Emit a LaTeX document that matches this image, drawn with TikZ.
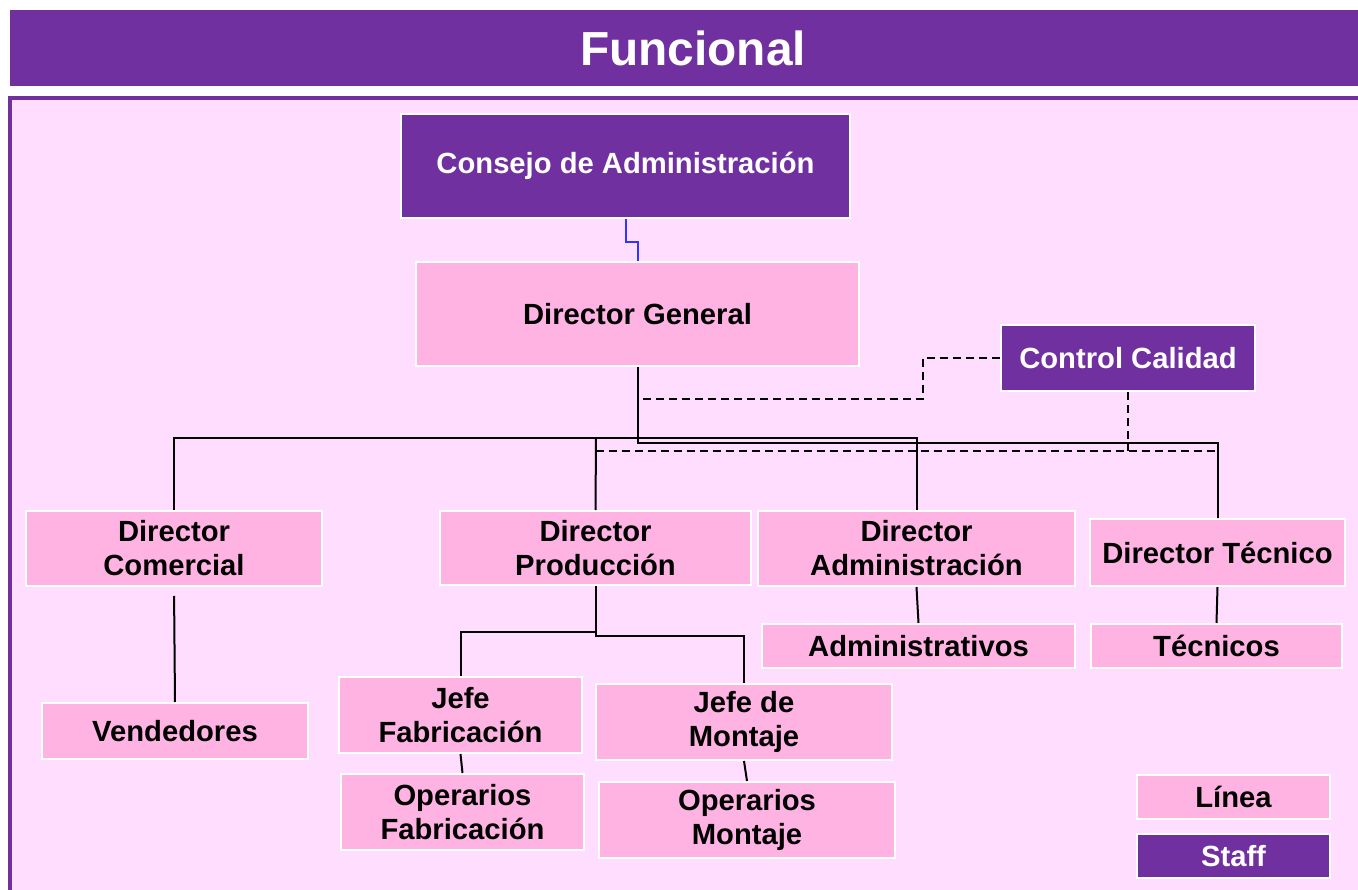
\documentclass[tikz,border=0pt]{standalone}
\usepackage{fontspec}
\setmainfont{Liberation Sans}
\definecolor{staffpurple}{HTML}{7030A0}
\definecolor{panelpink}{HTML}{FFDDFF}
\definecolor{linepink}{HTML}{FFB3E3}
\definecolor{linkblue}{HTML}{3333FF}
\begin{document}
\begin{tikzpicture}[x=1pt,y=-1pt,
  box/.style={draw=white,line width=2pt,inner sep=0pt,align=center,
    font=\bfseries\fontsize{29.2}{34}\selectfont},
  linebox/.style={box,fill=linepink,text=black},
  staffbox/.style={box,fill=staffpurple,text=white},
  conn/.style={draw=black,line width=2pt},
  dconn/.style={draw=black,line width=2pt,dash pattern=on 8pt off 5pt},
  blueconn/.style={draw=linkblue,line width=2pt}]
\useasboundingbox (0,0) rectangle (1358,890);
\fill[white] (0,0) rectangle (1358,890);
% title bar
\fill[staffpurple] (10,10) rectangle (1358,86);
\node[text=white,font=\bfseries\fontsize{47.8}{54}\selectfont] (title) at (693,48) {Funcional};
% panel
\begin{scope}
\clip (0,0) rectangle (1358,890);
\draw[staffpurple,line width=4pt,fill=panelpink] (10,98) rectangle (1370,900);
\end{scope}
% nodes
\node[staffbox,minimum width=449pt,minimum height=104pt] (consejo) at (625.5,166) {Consejo de Administración};
\node[linebox,minimum width=443pt,minimum height=104pt] (dg) at (637.5,314) {Director General};
\node[staffbox,minimum width=254pt,minimum height=66pt] (cc) at (1128,358) {Control Calidad};
\node[linebox,minimum width=296pt,minimum height=75pt] (dcom) at (174,548.5) {Director\\Comercial};
\node[linebox,minimum width=311pt,minimum height=74pt] (dprod) at (595.5,548) {Director\\Producción};
\node[linebox,minimum width=317pt,minimum height=75pt] (dadm) at (916.5,548.5) {Director\\Administración};
\node[linebox,minimum width=255pt,minimum height=67pt] (dtec) at (1217.5,552.5) {Director Técnico};
\node[linebox,minimum width=313pt,minimum height=44pt] (adm) at (918.5,646) {Administrativos};
\node[linebox,minimum width=251pt,minimum height=44pt] (tec) at (1216.5,646) {Técnicos};
\node[linebox,minimum width=266pt,minimum height=56pt] (vend) at (175,731) {Vendedores};
\node[linebox,minimum width=243pt,minimum height=76pt] (jfab) at (460.5,715) {Jefe\\Fabricación};
\node[linebox,minimum width=296pt,minimum height=76pt] (jmon) at (744,722) {Jefe de\\Montaje};
\node[linebox,minimum width=243pt,minimum height=76pt] (ofab) at (462.5,812) {Operarios\\Fabricación};
\node[linebox,minimum width=296pt,minimum height=76pt] (omon) at (747,820) {Operarios\\Montaje};
\node[linebox,minimum width=193pt,minimum height=44pt] (linea) at (1233.5,797) {Línea};
\node[staffbox,minimum width=193pt,minimum height=44pt] (staff) at (1233.5,856) {Staff};
% coordinates
\coordinate (busA) at (596,438);
\coordinate (busB) at (0,443);
\coordinate (dashY) at (0,451);
\coordinate (ccA) at (923,399);
\coordinate (ccEnd) at (641,399);
% connectors
\draw[blueconn] (consejo.south) -- ++(0,23) -| (dg.north);
\draw[conn] (dcom.north) |- (busA) -| (dadm.north);
\draw[conn] (busA) -- (dprod.north);
\draw[conn] (dg.south) -- (dg.south |- busB) -| (dtec.north);
\draw[dconn] (cc.west) -| (ccA) -- (ccEnd);
\draw[dconn] (cc.south) -- (cc.south |- dashY);
\draw[dconn] (dprod.north |- dashY) -- (dtec.north |- dashY) -- (dtec.north);
\draw[conn,shorten <=9pt] (dcom.south) -- (vend.north);
\draw[conn] (dprod.south) -- ++(0,50) -| (jmon.north);
\path (dprod.south) ++(0,46) coordinate (pj);
\draw[conn] (dprod.south) -- (pj) -| (jfab.north);
\draw[conn] (dadm.south) -- (adm.north);
\draw[conn] (dtec.south) -- (tec.north);
\draw[conn] (jfab.south) -- (ofab.north);
\draw[conn] (jmon.south) -- (omon.north);
\end{tikzpicture}
\end{document}
